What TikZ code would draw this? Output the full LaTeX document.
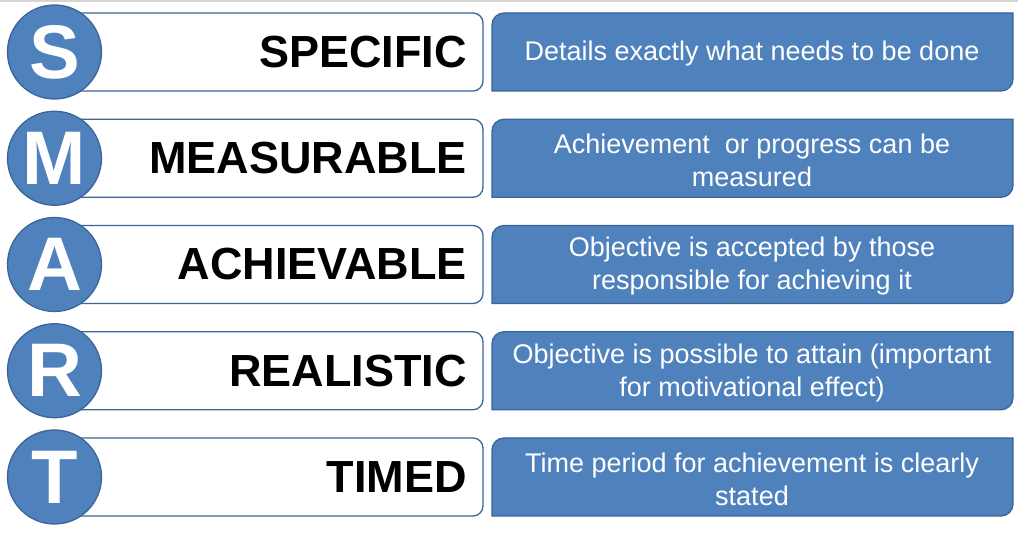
\documentclass[tikz,border=0pt]{standalone}
\usepackage{fontspec}
\setmainfont{Liberation Sans}
\definecolor{smartblue}{HTML}{4F81BD}
\definecolor{smartedge}{HTML}{3A649A}
\definecolor{rulegray}{HTML}{D4D4D4}
\begin{document}
\begin{tikzpicture}[x=1pt,y=1pt,
  letterdisc/.style={circle, fill=smartblue, draw=smartedge, line width=1.3pt,
    minimum size=94pt, inner sep=0pt, text=white,
    font=\fontsize{76}{76}\selectfont\bfseries},
  wordbar/.style={draw=smartedge, line width=1.3pt, fill=white, rounded corners=10pt},
  wordlabel/.style={anchor=east, inner sep=0pt, text=black,
    font=\fontsize{45}{45}\selectfont\bfseries},
  notebox/.style={fill=smartblue, draw=smartedge, line width=1.3pt},
  notetext/.style={align=center, inner sep=0pt, text=white,
    font=\fontsize{27}{33}\selectfont}
]
\useasboundingbox (0,0) rectangle (1018,535);
\fill[white] (0,0) rectangle (1018,535);
\draw[rulegray, line width=1.5pt] (0,534) -- (1018,534);

\foreach \i/\letter/\word/\note in {
  1/S/SPECIFIC/{Details exactly what needs to be done},
  2/M/MEASURABLE/{Achievement~ or progress can be\\measured},
  3/A/ACHIEVABLE/{Objective is accepted by those\\responsible for achieving it},
  4/R/REALISTIC/{Objective is possible to attain (important\\for motivational effect)},
  5/T/TIMED/{Time period for achievement is clearly\\stated}}
{
  \pgfmathsetmacro{\yc}{535-52-106.25*(\i-1)}
  % white bar behind the letter disc
  \draw[wordbar] (54,\yc-39) rectangle (483,\yc+39);
  % blue note box: rounded top-left and bottom-right corners
  \draw[notebox] (492,\yc-39) -- (492,\yc+27)
    arc[start angle=180, end angle=90, radius=12] -- (1013,\yc+39)
    -- (1013,\yc-27) arc[start angle=0, end angle=-90, radius=12] -- cycle;
  \node[letterdisc] (disc\i) at (54.5,\yc) {\letter};
  \node[wordlabel] (word\i) at (467,\yc) {\word};
  \node[notetext] (note\i) at (752,\yc-2) {\note};
}
\end{tikzpicture}
\end{document}
